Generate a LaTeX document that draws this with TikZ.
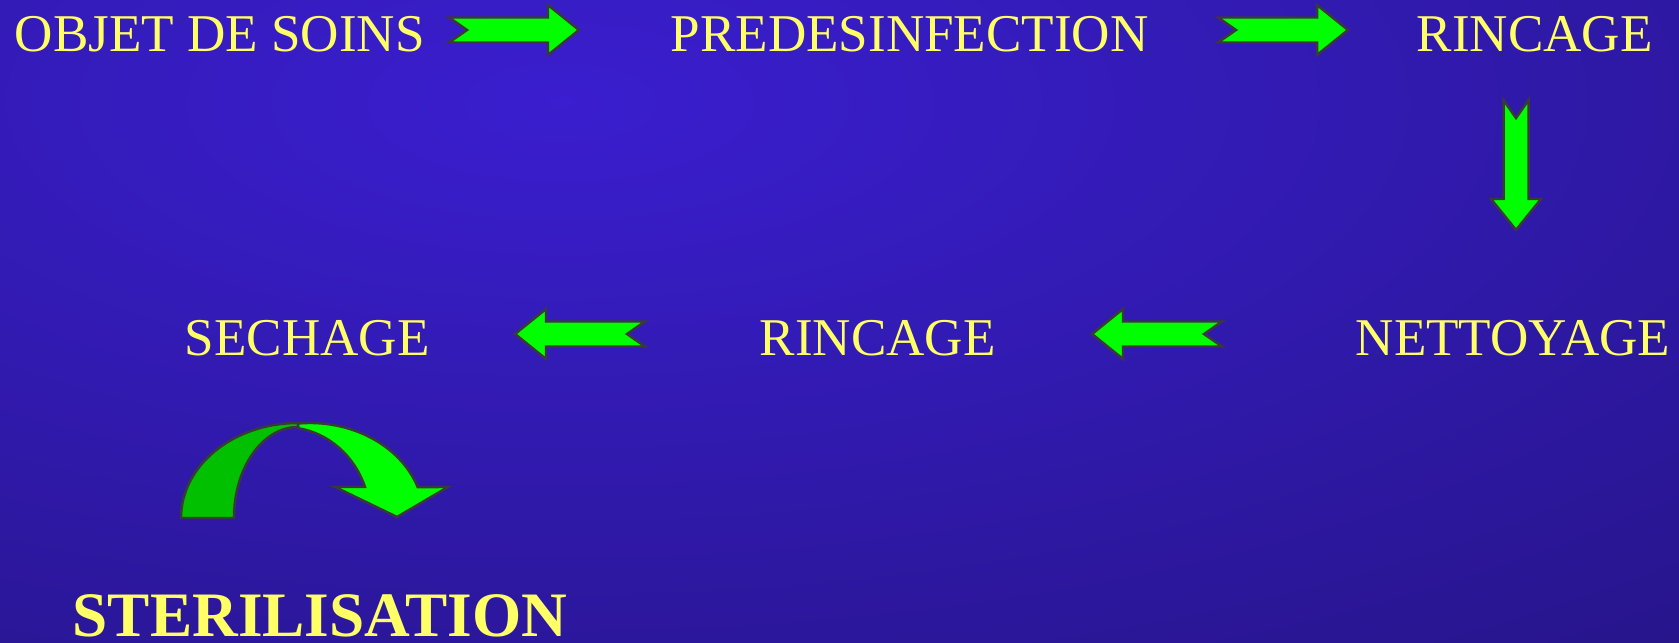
\documentclass[tikz,border=0pt]{standalone}
\usepackage{fontspec}
\setmainfont{Liberation Serif}
\definecolor{bginner}{RGB}{58,30,207}
\definecolor{bgouter}{RGB}{30,17,110}
\definecolor{txtyellow}{RGB}{255,255,102}
\definecolor{arrgreen}{RGB}{0,255,0}
\definecolor{arrdark}{RGB}{0,192,0}
\definecolor{arredge}{RGB}{58,58,58}
\tikzset{
  lbl/.style={text=txtyellow, font=\fontsize{15.1pt}{18pt}\selectfont, inner sep=0pt, anchor=base west},
  bigl/.style={text=txtyellow, font=\bfseries\fontsize{18pt}{22pt}\selectfont, inner sep=0pt, anchor=base west},
  blockarrow/.style={fill=arrgreen, draw=arredge, line width=0.7pt, line join=miter},
  fatarrow/.pic={\path[blockarrow] (-65,12.5) -- (34,12.5) -- (34,25) -- (65,0) -- (34,-25) -- (34,-12.5) -- (-65,-12.5) -- (-47,0) -- cycle;}
}
\begin{document}
\begin{tikzpicture}[x=0.01cm,y=0.01cm]
\useasboundingbox (0,0) rectangle (1679,642);
\begin{scope}
\clip (0,0) rectangle (1679,642);
\fill[bgouter] (0,0) rectangle (1679,642);
\shade[inner color=bginner, outer color=bgouter] (560,540) ellipse [x radius=2500, y radius=1020];
\end{scope}
% texts
\node[lbl] (objet) at (14,590) {OBJET DE SOINS};
\node[lbl] (predes) at (670,590) {PREDESINFECTION};
\node[lbl] (rinc1) at (1416,590) {RINCAGE};
\node[lbl] (nett) at (1355,287) {NETTOYAGE};
\node[lbl] (rinc2) at (759,287) {RINCAGE};
\node[lbl] (sech) at (184,287) {SECHAGE};
\node[bigl] (steri) at (72,6) {STERILISATION};
% block arrows
\pic at (514,612) {fatarrow};
\pic at (1283,612) {fatarrow};
\pic[rotate=-90] at (1516,477) {fatarrow};
\pic[rotate=180] at (1157,308) {fatarrow};
\pic[rotate=180] at (580,308) {fatarrow};
% curved arrow
\path[blockarrow, fill=arrdark] (181,124) arc[start angle=180, end angle=90, x radius=117, y radius=95]
  -- (298,215) arc[start angle=90, end angle=180, x radius=64, y radius=91] -- cycle;
\path[blockarrow] (298,218.5) arc[start angle=96, end angle=19, x radius=114, y radius=95]
  -- (448,155) -- (397,125) -- (335,155) -- (365,155)
  arc[start angle=20, end angle=81, x radius=85, y radius=91] -- cycle;
\end{tikzpicture}
\end{document}
